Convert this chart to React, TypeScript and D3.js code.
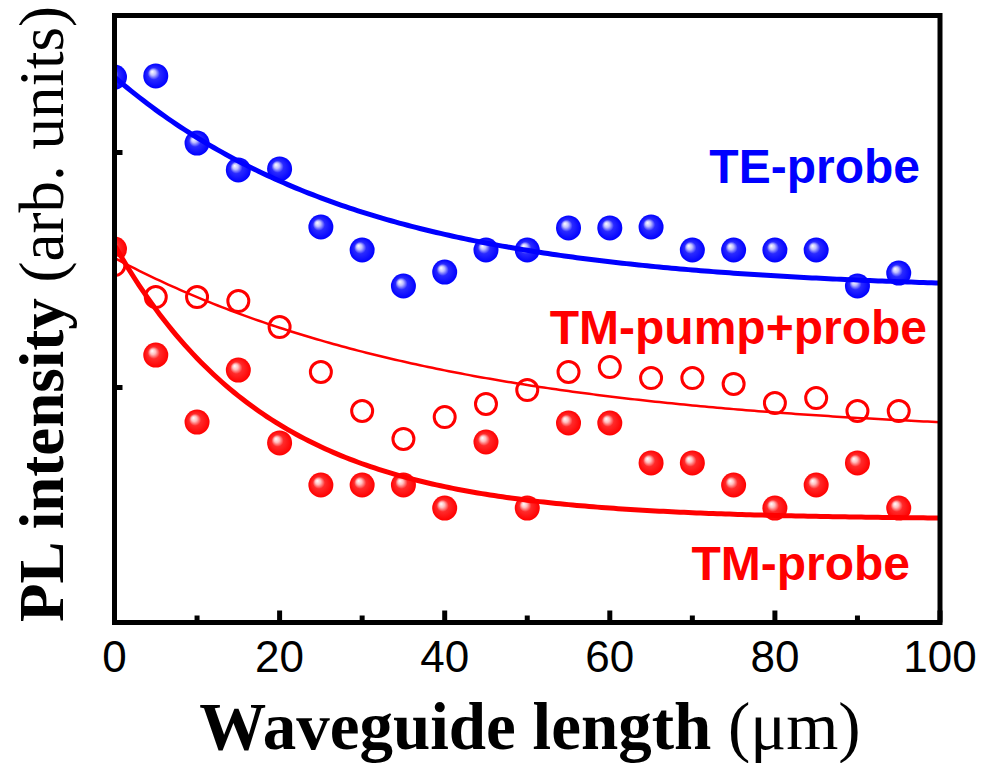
import * as d3 from "d3";
import React from "react";

// waveguide length (um)
const lengths = [0, 5, 10, 15, 20, 25, 30, 35, 40, 45, 50, 55, 60, 65, 70, 75, 80, 85, 90, 95];

// PL intensity (arb. units)
const teProbe = [2.321, 2.326, 2.04, 1.926, 1.93, 1.683, 1.585, 1.432, 1.491, 1.585, 1.585, 1.679, 1.679, 1.683, 1.585, 1.585, 1.585, 1.585, 1.432, 1.487];
const tmPumpProbe = [1.521, 1.385, 1.385, 1.368, 1.257, 1.066, 0.9, 0.781, 0.874, 0.93, 0.989, 1.066, 1.087, 1.04, 1.04, 1.015, 0.934, 0.955, 0.9, 0.9];
const tmProbe = [1.589, 1.138, 0.853, 1.074, 0.764, 0.585, 0.585, 0.585, 0.487, 0.768, 0.487, 0.849, 0.849, 0.679, 0.679, 0.585, 0.487, 0.585, 0.679, 0.487];

// exponential decay fits: y0 + A * exp(-x / t)
const teFit = { y0: 1.412, A: 0.909, t: 30 };
const tmPumpProbeFit = { y0: 0.787, A: 0.764, t: 40.7 };
const tmProbeFit = { y0: 0.439, A: 1.167, t: 18.8 };

const xTicks = [0, 20, 40, 60, 80, 100];
const xMinorTicks = [10, 30, 50, 70, 90];
const yTicks = [1, 2];

const W = 983;
const H = 763;
const left = 114.5, right = 940, top = 15.5, bottom = 622.5;

export default function App() {
  const x = d3.scaleLinear().domain([0, 100]).range([left, right]);
  const y = d3.scaleLinear().domain([0, 2.583]).range([bottom, top]);

  const fitPath = (f: { y0: number; A: number; t: number }) => {
    const xs = d3.range(0, 100.01, 0.5);
    return d3
      .line<number>()
      .x((d) => x(d))
      .y((d) => y(f.y0 + f.A * Math.exp(-d / f.t)))(xs) as string;
  };

  const spheres = (vals: number[], grad: string) =>
    vals.map((v, i) => (
      <circle key={i} cx={x(lengths[i])} cy={y(v)} r={12.5} fill={`url(#${grad})`} />
    ));

  return (
    <svg width={W} height={H} style={{ position: "absolute", left: 0, top: 0 }}>
      <defs>
        <radialGradient id="gBlue" cx="50%" cy="50%" r="50%" fx="35%" fy="33%">
          <stop offset="0%" stopColor="#ffffff" />
          <stop offset="22%" stopColor="#c0c0ff" />
          <stop offset="48%" stopColor="#2a2aff" />
          <stop offset="100%" stopColor="#0000ff" />
        </radialGradient>
        <radialGradient id="gRed" cx="50%" cy="50%" r="50%" fx="35%" fy="33%">
          <stop offset="0%" stopColor="#ffffff" />
          <stop offset="22%" stopColor="#ffc0c0" />
          <stop offset="48%" stopColor="#ff2a2a" />
          <stop offset="100%" stopColor="#ff0000" />
        </radialGradient>
        <clipPath id="plotClip">
          <rect x={left} y={top} width={right - left} height={bottom - top} />
        </clipPath>
      </defs>

      <g clipPath="url(#plotClip)">
        {spheres(teProbe, "gBlue")}
        {spheres(tmProbe, "gRed")}
        {tmPumpProbe.map((v, i) => (
          <circle key={i} cx={x(lengths[i])} cy={y(v)} r={10.5} fill="white" stroke="#ff0000" strokeWidth={3} />
        ))}
        <path d={fitPath(teFit)} fill="none" stroke="#0000ff" strokeWidth={5} />
        <path d={fitPath(tmPumpProbeFit)} fill="none" stroke="#ff0000" strokeWidth={2.5} />
        <path d={fitPath(tmProbeFit)} fill="none" stroke="#ff0000" strokeWidth={5} />
      </g>

      {/* ticks, pointing inward */}
      {xTicks.map((t) => (
        <line key={t} x1={x(t)} x2={x(t)} y1={bottom} y2={bottom - 12} stroke="black" strokeWidth={5} />
      ))}
      {xMinorTicks.map((t) => (
        <line key={t} x1={x(t)} x2={x(t)} y1={bottom} y2={bottom - 7} stroke="black" strokeWidth={5} />
      ))}
      {yTicks.map((t) => (
        <line key={t} x1={left} x2={left + 8} y1={y(t)} y2={y(t)} stroke="black" strokeWidth={5} />
      ))}

      <rect x={left} y={top} width={right - left} height={bottom - top} fill="none" stroke="black" strokeWidth={5} />

      {xTicks.map((t) => (
        <text key={t} x={x(t)} y={672} textAnchor="middle" fontFamily="'Liberation Sans', Arial, sans-serif" fontSize={44}>
          {t}
        </text>
      ))}

      <text x={530} y={749} textAnchor="middle" fontFamily="'Liberation Serif', 'Times New Roman', serif" fontSize={67}>
        <tspan fontWeight="bold">Waveguide length </tspan>
        <tspan>(μm)</tspan>
      </text>
      <text
        transform={`translate(63, 314) rotate(-90)`}
        textAnchor="middle"
        fontFamily="'Liberation Serif', 'Times New Roman', serif"
        fontSize={63}
      >
        <tspan fontWeight="bold">PL intensity </tspan>
        <tspan>(arb. units)</tspan>
      </text>

      <g fontFamily="'Liberation Sans', Arial, sans-serif" fontWeight="bold" fontSize={48} textAnchor="end">
        <text x={920} y={183} fill="#0000ff">TE-probe</text>
        <text x={927} y={344} fill="#ff0000">TM-pump+probe</text>
        <text x={910} y={580} fill="#ff0000">TM-probe</text>
      </g>
    </svg>
  );
}
